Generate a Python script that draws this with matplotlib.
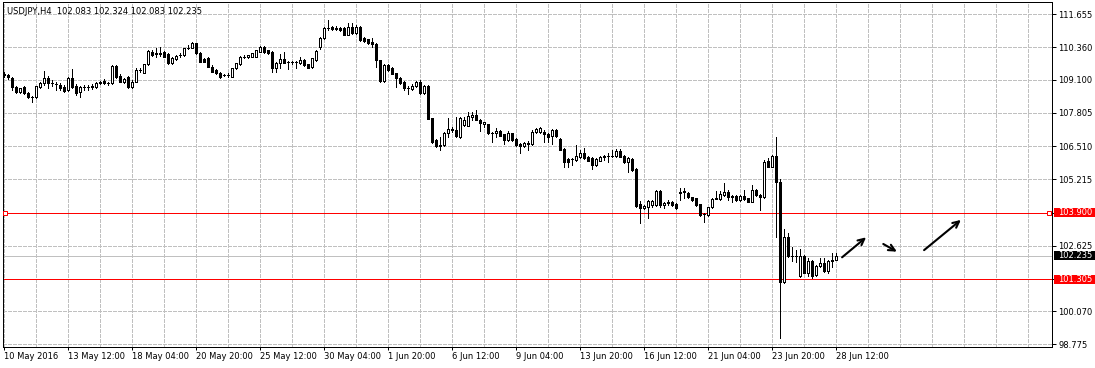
import numpy as np
import matplotlib
matplotlib.use("Agg")
import matplotlib.pyplot as plt
from matplotlib.patches import Rectangle

# USDJPY H4 candles (bar 0 = 10 May 2016 20:00)
symbol = "USDJPY,H4"

opens = [
    109.31, 109.27, 109.18, 108.81, 108.63, 108.81, 108.57, 108.42, 108.44, 108.83,
    108.96, 109.16, 108.97, 108.95, 108.90, 108.81, 108.70, 109.16, 108.86, 108.63,
    108.82, 108.82, 108.82, 108.81, 108.97, 109.05, 108.97, 108.96, 109.64, 109.25,
    109.02, 109.22, 108.81, 109.02, 109.48, 109.38, 109.72, 110.19, 110.11, 110.13,
    110.19, 110.11, 109.77, 109.90, 110.05, 110.07, 110.34, 110.35, 110.52, 110.13,
    109.90, 109.94, 109.61, 109.48, 109.38, 109.29, 109.27, 109.22, 109.55, 109.72,
    109.99, 109.98, 110.00, 110.00, 110.19, 110.39, 110.26, 110.19, 109.55, 109.74,
    109.90, 109.78, 109.78, 109.80, 109.77, 109.87, 109.70, 109.61, 109.87, 110.37,
    110.72, 111.11, 111.15, 111.13, 111.11, 111.11, 110.85, 111.17, 110.94, 111.17,
    110.72, 110.68, 110.59, 110.50, 109.87, 109.05, 109.68, 109.55, 109.35, 109.16,
    109.02, 108.77, 108.73, 108.86, 109.00, 108.59, 108.87, 107.60, 106.75, 106.52,
    106.55, 107.01, 107.18, 107.14, 106.88, 107.33, 107.31, 107.66, 107.72, 107.53,
    107.36, 107.36, 107.01, 107.01, 107.10, 106.97, 106.75, 107.01, 106.79, 106.59,
    106.52, 106.59, 106.59, 107.05, 107.07, 107.07, 106.98, 106.90, 107.14, 106.79,
    106.39, 106.00, 105.99, 105.97, 106.07, 106.23, 106.07, 106.03, 105.77, 105.94,
    106.07, 106.11, 106.12, 106.12, 106.32, 106.14, 105.90, 106.00, 105.60, 104.24,
    104.08, 104.12, 104.21, 104.21, 104.76, 104.21, 104.28, 104.32, 104.25, 104.69,
    104.73, 104.67, 104.51, 104.47, 104.24, 103.86, 103.82, 104.12, 104.46, 104.45,
    104.60, 104.73, 104.56, 104.56, 104.41, 104.56, 104.47, 104.34, 104.80, 104.60,
    104.51, 105.93, 105.71, 106.12, 105.12, 101.22, 102.95, 102.22, 102.21, 101.45,
    102.22, 101.57, 102.03, 101.48, 101.83, 101.94, 101.65, 102.03, 102.083,
]

highs = [
    109.40, 109.32, 109.21, 108.86, 108.78, 108.86, 108.62, 108.48, 108.86, 109.01,
    109.44, 109.25, 109.09, 109.01, 108.97, 108.90, 109.21, 109.52, 108.93, 108.86,
    108.90, 108.90, 108.93, 109.01, 109.07, 109.11, 109.03, 109.66, 109.66, 109.32,
    109.17, 109.25, 109.09, 109.56, 109.56, 109.72, 110.26, 110.26, 110.33, 110.39,
    110.24, 110.15, 109.99, 110.07, 110.13, 110.34, 110.46, 110.59, 110.55, 110.18,
    109.95, 109.97, 109.66, 109.52, 109.40, 109.34, 109.36, 109.56, 109.77, 110.01,
    110.06, 110.08, 110.15, 110.28, 110.42, 110.42, 110.28, 110.22, 109.79, 110.11,
    110.19, 109.83, 109.83, 109.85, 109.98, 109.91, 109.73, 109.95, 110.26, 110.75,
    111.14, 111.43, 111.18, 111.18, 111.14, 111.14, 111.33, 111.30, 111.22, 111.20,
    110.78, 110.71, 110.72, 110.52, 109.89, 109.70, 109.70, 109.58, 109.38, 109.19,
    109.05, 108.84, 108.92, 109.07, 109.09, 108.90, 108.90, 107.61, 106.79, 106.88,
    107.06, 107.59, 107.27, 107.63, 107.63, 107.66, 107.85, 107.85, 107.92, 107.55,
    107.47, 107.39, 107.08, 107.21, 107.14, 107.00, 107.10, 107.04, 106.83, 106.63,
    106.67, 106.69, 107.12, 107.20, 107.24, 107.12, 107.02, 107.18, 107.18, 106.83,
    106.42, 106.03, 106.03, 106.55, 106.36, 106.42, 106.11, 106.07, 106.03, 106.12,
    106.16, 106.23, 106.36, 106.39, 106.39, 106.16, 106.07, 106.03, 105.64, 104.37,
    104.21, 104.41, 104.39, 104.80, 104.80, 104.31, 104.39, 104.37, 104.29, 104.86,
    104.86, 104.72, 104.54, 104.50, 104.27, 103.90, 104.15, 104.49, 104.77, 104.77,
    105.08, 104.78, 104.60, 104.60, 104.60, 104.80, 104.50, 104.99, 104.84, 104.64,
    105.97, 106.03, 106.16, 106.85, 105.23, 103.28, 103.12, 102.56, 102.46, 102.48,
    102.26, 102.13, 102.07, 101.87, 102.13, 102.16, 102.07, 102.33, 102.324,
]

lows = [
    109.21, 109.13, 108.70, 108.58, 108.58, 108.54, 108.39, 108.24, 108.39, 108.78,
    108.90, 108.78, 108.86, 108.70, 108.70, 108.62, 108.66, 108.78, 108.51, 108.44,
    108.70, 108.70, 108.74, 108.78, 108.93, 108.93, 108.91, 108.93, 109.17, 109.01,
    108.99, 108.78, 108.78, 109.01, 109.40, 109.36, 109.68, 110.03, 109.99, 110.01,
    109.99, 109.72, 109.72, 109.87, 109.99, 110.03, 110.30, 110.34, 110.11, 109.79,
    109.79, 109.60, 109.40, 109.32, 109.17, 109.23, 109.19, 109.19, 109.52, 109.68,
    109.95, 109.95, 109.97, 109.99, 110.18, 110.16, 110.11, 109.41, 109.41, 109.55,
    109.75, 109.51, 109.72, 109.55, 109.73, 109.64, 109.54, 109.57, 109.83, 110.30,
    110.69, 111.06, 111.04, 111.04, 111.02, 110.83, 110.83, 110.89, 110.90, 110.61,
    110.59, 110.50, 110.39, 109.61, 109.03, 109.03, 109.46, 109.31, 108.81, 108.93,
    108.70, 108.54, 108.70, 108.82, 108.54, 108.56, 107.55, 106.65, 106.48, 106.36,
    106.52, 106.88, 107.08, 106.88, 106.82, 107.30, 107.28, 107.53, 107.51, 107.11,
    107.27, 106.98, 106.68, 106.88, 106.89, 106.59, 106.71, 106.71, 106.52, 106.23,
    106.46, 106.36, 106.57, 107.02, 107.04, 106.68, 106.68, 106.59, 106.87, 106.34,
    105.71, 105.71, 105.77, 105.93, 106.05, 106.01, 105.91, 105.61, 105.73, 105.91,
    105.97, 105.90, 106.09, 106.09, 106.07, 105.87, 105.50, 105.54, 104.15, 103.52,
    104.06, 103.72, 104.12, 104.17, 104.12, 104.08, 104.23, 104.17, 104.06, 104.41,
    104.47, 104.49, 104.37, 104.17, 103.78, 103.56, 103.78, 104.09, 104.43, 104.41,
    104.56, 104.41, 104.34, 104.37, 104.37, 104.41, 104.31, 104.31, 104.56, 104.02,
    104.49, 105.68, 105.68, 102.97, 99.01, 101.18, 102.18, 102.04, 102.00, 101.42,
    101.54, 101.44, 101.37, 101.44, 101.79, 101.61, 101.55, 101.80, 102.083,
]

closes = [
    109.27, 109.21, 108.81, 108.63, 108.77, 108.59, 108.41, 108.43, 108.86, 108.96,
    109.16, 108.96, 108.96, 108.93, 108.77, 108.67, 109.16, 108.83, 108.59, 108.83,
    108.83, 108.81, 108.86, 108.96, 109.02, 108.96, 108.99, 109.64, 109.20, 109.02,
    109.13, 108.81, 109.02, 109.48, 109.50, 109.70, 110.22, 110.07, 110.13, 110.11,
    110.00, 109.74, 109.96, 110.03, 110.08, 110.33, 110.35, 110.52, 110.13, 109.80,
    109.81, 109.61, 109.41, 109.35, 109.20, 109.27, 109.30, 109.55, 109.74, 110.00,
    110.00, 110.07, 110.13, 110.26, 110.37, 110.19, 110.13, 109.55, 109.77, 109.90,
    109.77, 109.79, 109.79, 109.81, 109.87, 109.68, 109.57, 109.94, 110.22, 110.72,
    111.11, 111.12, 111.07, 111.07, 111.04, 110.85, 111.15, 110.91, 111.17, 110.65,
    110.62, 110.52, 110.50, 109.87, 109.05, 109.68, 109.48, 109.33, 109.16, 108.96,
    108.77, 108.76, 108.87, 109.02, 108.57, 108.87, 107.57, 106.68, 106.52, 106.57,
    107.01, 107.18, 107.13, 106.92, 107.60, 107.53, 107.69, 107.72, 107.53, 107.40,
    107.44, 107.01, 107.04, 107.10, 106.92, 106.75, 107.01, 106.75, 106.55, 106.52,
    106.62, 106.64, 107.07, 107.17, 107.21, 106.98, 106.88, 107.14, 106.90, 106.36,
    105.90, 105.90, 106.00, 106.12, 106.23, 106.03, 105.94, 105.77, 106.00, 106.10,
    106.12, 106.12, 106.13, 106.32, 106.10, 105.90, 106.03, 105.58, 104.17, 104.08,
    104.17, 104.37, 104.37, 104.76, 104.21, 104.28, 104.34, 104.21, 104.08, 104.73,
    104.75, 104.51, 104.41, 104.21, 103.82, 103.85, 104.12, 104.45, 104.47, 104.64,
    104.73, 104.54, 104.51, 104.41, 104.56, 104.45, 104.34, 104.80, 104.60, 104.54,
    105.90, 105.71, 106.12, 105.12, 101.22, 102.95, 102.22, 102.21, 102.22, 102.22,
    101.57, 102.03, 101.45, 101.83, 101.94, 101.65, 102.03, 102.08, 102.235,
]

date_labels = ["10 May 2016", "13 May 12:00", "18 May 04:00", "20 May 20:00",
               "25 May 12:00", "30 May 04:00", "1 Jun 20:00", "6 Jun 12:00",
               "9 Jun 04:00", "13 Jun 20:00", "16 Jun 12:00", "21 Jun 04:00",
               "23 Jun 20:00", "28 Jun 12:00"]
bars_per_label = 16

price_ticks = [111.655, 110.360, 109.100, 107.805, 106.510, 105.215,
               103.900, 102.625, 101.305, 100.070, 98.775]
level_lines = [103.900, 101.305]

# hand drawn arrows on the chart: (start bar, start price) -> (end bar, end price)
arrows = [((209.6, 102.17), (215.6, 102.95)),
          ((219.9, 102.69), (223.3, 102.39)),
          ((230.1, 102.45), (239.3, 103.63))]

px = 0.72  # one pixel in points at 100 dpi
grid_col = "#c0c0c0"

o = np.array(opens)
h = np.array(highs)
l = np.array(lows)
c = np.array(closes)
x = np.arange(len(c))

fig = plt.figure(figsize=(10.95, 3.68), dpi=100)
ax = fig.add_axes([0.00247, 0.05788, 0.95826, 0.93587])
ax.set_xlim(-0.25, 262.08)
ax.set_ylim(98.681, 112.123)

# grid
for gx in range(0, 263, 8):
    ax.axvline(gx, color=grid_col, lw=px, ls=(0, (3, 2)), zorder=0, antialiased=False)
for gy in price_ticks:
    ax.axhline(gy, color=grid_col, lw=px, ls=(0, (3, 2)), zorder=0, antialiased=False)

# bid line and levels
ax.axhline(c[-1], color=grid_col, lw=px, zorder=1, antialiased=False)
for lv in level_lines:
    ax.axhline(lv, color="#ff0000", lw=px, zorder=1, antialiased=False)
ax.plot([0.0022, 0.9974], [level_lines[0]] * 2, transform=ax.get_yaxis_transform(),
        ls="none", marker="s", ms=3.3, mfc="white", mec="#ff0000", mew=px,
        clip_on=False, zorder=5)

# candles
ax.vlines(x, l, h, color="black", lw=px, zorder=2, antialiased=False)
bottoms = np.minimum(o, c)
heights = np.maximum(np.abs(c - o), 0.004)
fills = np.where(c > o, "white", "black")
ax.bar(x, heights, bottom=bottoms, width=0.5, color=fills, edgecolor="black",
       linewidth=px, zorder=3, antialiased=False)

# arrows
for start, end in arrows:
    ax.annotate("", xy=end, xytext=start,
                arrowprops=dict(arrowstyle="->,head_length=0.45,head_width=0.22",
                                lw=1.5, color="black", shrinkA=0, shrinkB=0))

# axes
for sp in ax.spines.values():
    sp.set_color("black")
    sp.set_linewidth(px)

ax.set_xticks(np.arange(len(date_labels)) * bars_per_label)
ax.set_xticklabels(date_labels, ha="left")
ax.tick_params(axis="x", direction="out", length=2.2, width=px, pad=1.5,
               labelsize=6, colors="black")

ax.yaxis.tick_right()
ax.set_yticks(price_ticks)
ax.set_yticklabels(["" if t in level_lines else "%.3f" % t for t in price_ticks])
ax.tick_params(axis="y", direction="out", length=2.9, width=px, pad=1.5,
               labelsize=6, colors="black")

# price tags on the scale
tag_h = 0.176
for val, col in [(level_lines[0], "#ff0000"), (level_lines[1], "#ff0000"), (c[-1], "black")]:
    ax.add_patch(Rectangle((1.0019, val - tag_h), 0.0391, 2 * tag_h,
                           transform=ax.get_yaxis_transform(), facecolor=col,
                           edgecolor="none", clip_on=False, zorder=6))
    ax.text(1.0057, val, "%.3f" % val, transform=ax.get_yaxis_transform(),
            color="white", fontsize=6, va="center", ha="left", zorder=7)

fig.text(7 / 1095, 1 - 11.5 / 368,
         "%s  %.3f %.3f %.3f %.3f" % (symbol, o[-1], h[-1], l[-1], c[-1]),
         fontsize=6, va="center", ha="left")

fig.savefig("out.png", dpi=100, facecolor="white")
